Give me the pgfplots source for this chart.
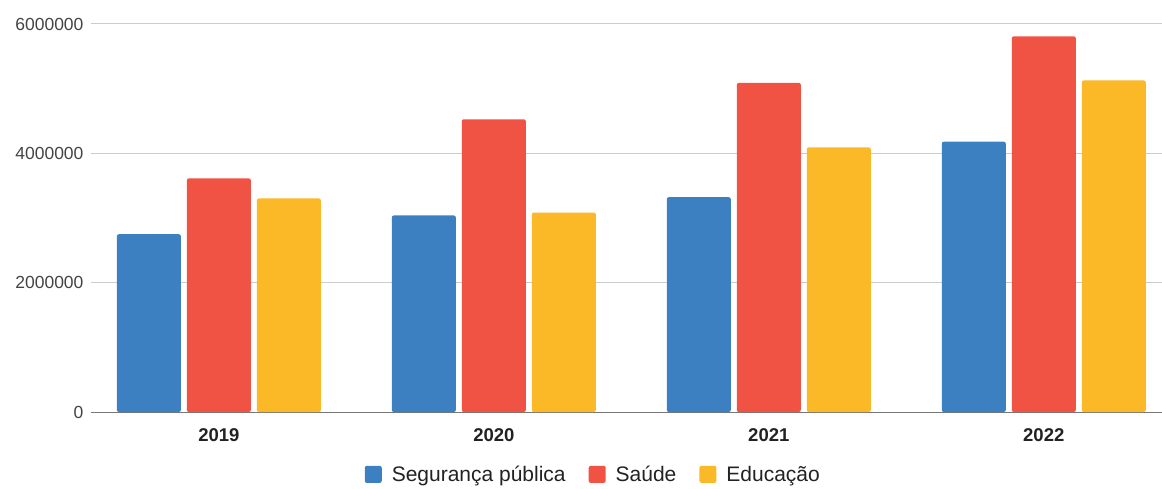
\documentclass[border=0pt]{standalone}
\usepackage{fontspec}
\setmainfont{Liberation Sans}
\usepackage{pgfplots}
\pgfplotsset{compat=1.18}
\definecolor{cblue}{HTML}{3D80C2}
\definecolor{cred}{HTML}{F05243}
\definecolor{cyellow}{HTML}{FBB928}
\definecolor{cgrid}{HTML}{CCCCCC}
\definecolor{caxis}{HTML}{777777}
\definecolor{ctext}{HTML}{222222}
\definecolor{cytext}{HTML}{444444}
\begin{document}
\begin{tikzpicture}
\begin{axis}[
  scale only axis,
  width=1071pt, height=388pt,
  ybar=6pt, bar width=64pt,
  xmin=-0.465, xmax=3.43,
  ymin=0, ymax=6000000,
  xtick={0,1,2,3},
  xticklabels={2019,2020,2021,2022},
  ytick={0,2000000,4000000,6000000},
  /pgf/number format/fixed,
  /pgf/number format/1000 sep={},
  /pgf/number format/assume math mode=true,
  scaled y ticks=false,
  ymajorgrids,
  grid style={cgrid, line width=1pt},
  extra y ticks={0},
  extra y tick labels={},
  extra y tick style={grid style={caxis, line width=0.9pt}},
  axis line style={draw=none},
  major tick length=0pt,
  yticklabel style={font=\fontsize{17.5}{20}\selectfont, text=cytext, xshift=-4pt},
  xticklabel style={font=\fontsize{18.5}{20}\selectfont\bfseries, text=ctext, yshift=-13pt},
  legend style={draw=none, fill=none, at={(rel axis cs:0.469,-0.162)}, anchor=center,
    font=\fontsize{21}{24}\selectfont, text=ctext, legend columns=3,
    /tikz/every odd column/.append style={column sep=8pt},
    /tikz/every even column/.append style={column sep=21pt}},
  legend image code/.code={\fill[#1] (0pt,-8pt) rectangle (17pt,9pt);},
  legend cell align=left,
]
\addplot[fill=cblue, draw=none, rounded corners=2pt] coordinates {(0,2749000) (1,3039000) (2,3322000) (3,4180000)};
\addplot[fill=cred, draw=none, rounded corners=2pt] coordinates {(0,3612000) (1,4527000) (2,5090000) (3,5810000)};
\addplot[fill=cyellow, draw=none, rounded corners=2pt] coordinates {(0,3302000) (1,3085000) (2,4093000) (3,5127000)};
\legend{Segurança pública, Saúde, Educação}
\end{axis}
\pgfresetboundingbox
\path ([xshift=-91pt,yshift=-76pt]current axis.south west) rectangle ([yshift=24pt]current axis.north east);
\end{tikzpicture}
\end{document}
